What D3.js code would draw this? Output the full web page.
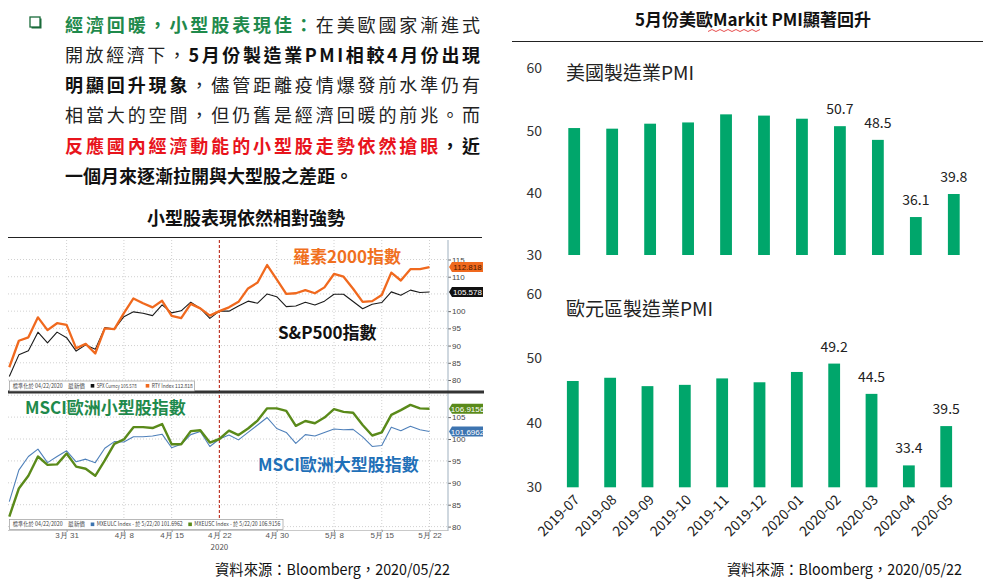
<!DOCTYPE html>
<html>
<head>
<meta charset="utf-8">
<script src="https://cdn.jsdelivr.net/npm/d3@7"></script>
<style>
  body { margin: 0; background: #fff; }
  svg { display: block; font-family: "Noto Sans CJK TC", "Noto Sans", sans-serif; }
</style>
</head>
<body>
<div id="chart"></div>
<script>
// 資料：每個平日 (03/23 ~ 05/22)
const days = [
  "2020-03-23","2020-03-24","2020-03-25","2020-03-26","2020-03-27",
  "2020-03-30","2020-03-31","2020-04-01","2020-04-02","2020-04-03",
  "2020-04-06","2020-04-07","2020-04-08","2020-04-09","2020-04-10",
  "2020-04-13","2020-04-14","2020-04-15","2020-04-16","2020-04-17",
  "2020-04-20","2020-04-21","2020-04-22","2020-04-23","2020-04-24",
  "2020-04-27","2020-04-28","2020-04-29","2020-04-30","2020-05-01",
  "2020-05-04","2020-05-05","2020-05-06","2020-05-07","2020-05-08",
  "2020-05-11","2020-05-12","2020-05-13","2020-05-14","2020-05-15",
  "2020-05-18","2020-05-19","2020-05-20","2020-05-21","2020-05-22"
];
const tickDays = ["2020-03-31","2020-04-08","2020-04-15","2020-04-22","2020-04-30","2020-05-08","2020-05-15","2020-05-22"];
const tickLabels = ["3月 31","4月 8","4月 15","4月 22","4月 30","5月 8","5月 15","5月 22"];
const baseDay = "2020-04-22";

// 標準化於 04/22/2020
const rty = [83.7,91.4,92.4,98.2,94.5,96.5,96.0,89.2,90.5,87.7,
  95.0,94.8,99.4,103.7,102.3,101.1,103.0,98.6,98.0,102.1,
  100.8,98.7,100.0,101.1,102.7,106.6,108.3,113.4,109.2,105.0,
  105.2,106.1,105.2,106.9,110.8,110.0,106.5,102.7,102.9,104.7,
  111.2,108.9,112.2,112.2,112.818];
const spx = [81.0,87.3,88.5,93.9,90.8,93.9,92.3,88.4,90.2,88.9,
  95.2,94.8,98.4,99.8,99.4,98.7,101.8,99.5,100.1,102.6,
  100.8,97.9,100.0,100.0,101.5,102.9,102.3,105.0,104.2,101.3,
  101.5,102.6,101.8,102.9,104.9,104.9,102.8,100.7,102.0,102.5,
  105.6,104.6,106.1,105.4,105.578];
const mxeusc = [82.3,88.7,91.6,96.0,94.1,94.2,96.7,93.7,93.2,91.6,
  95.1,98.9,99.9,102.7,102.7,102.5,103.4,98.8,98.8,101.8,
  102.0,99.2,100.0,101.9,100.9,102.4,104.2,107.0,107.0,106.4,
  103.0,104.1,103.6,104.9,106.8,106.2,106.0,103.2,100.8,101.5,
  105.5,106.6,107.8,107.0,106.9156];
const mxeulc = [85.7,92.9,96.0,97.7,94.6,96.0,97.3,94.8,95.4,94.6,
  97.9,99.4,99.3,100.5,100.5,100.7,101.1,98.0,98.8,101.0,
  101.7,98.3,100.0,100.9,99.8,101.5,103.2,104.9,102.4,101.5,
  99.0,101.0,100.7,101.5,102.3,102.1,102.2,100.5,98.3,98.5,
  102.7,101.9,102.9,102.1,101.6962];

// PMI
const months = ["2019-07","2019-08","2019-09","2019-10","2019-11","2019-12","2020-01","2020-02","2020-03","2020-04","2020-05"];
const usPmi = [50.4,50.3,51.1,51.3,52.6,52.4,51.9,50.7,48.5,36.1,39.8];
const euPmi = [46.5,47.0,45.7,45.9,46.9,46.3,47.9,49.2,44.5,33.4,39.5];
const pmiTicks = [30,40,50,60];
const labelFrom = 7; // 2020-02 起標示數值

// 段落文字 (g: 綠粗, b: 粗, r: 紅粗, n: 一般)
const paraLines = [
  [["經濟回暖，小型股表現佳：","g"],["在美歐國家漸進式","n"]],
  [["開放經濟下，","n"],["5月份製造業PMI相較4月份出現","b"]],
  [["明顯回升現象","b"],["，儘管距離疫情爆發前水準仍有","n"]],
  [["相當大的空間，但仍舊是經濟回暖的前兆。而","n"]],
  [["反應國內經濟動能的小型股走勢依然搶眼","r"],["，近","b"]],
  [["一個月來逐漸拉開與大型股之差距。","b"]]
];
const paraColor = { g: "#1f8a4c", b: "#111", r: "#e8141c", n: "#222" };

const svg = d3.select("#chart").append("svg")
  .attr("width", 984)
  .attr("height", 584);

// ---- 左上段落 ----
const bullet = svg.append("g");
bullet.append("rect").attr("x", 31.5).attr("y", 18.5).attr("width", 10).attr("height", 10).attr("fill", "#1a6b3a");
bullet.append("rect").attr("x", 30).attr("y", 17).attr("width", 10).attr("height", 10)
  .attr("fill", "#fff").attr("stroke", "#1a6b3a").attr("stroke-width", 1.3);

paraLines.forEach((line, i) => {
  const t = svg.append("text")
    .attr("x", 65)
    .attr("y", 31.5 + i * 30.3)
    .style("font-size", "18px");
  if (i < paraLines.length - 1) t.attr("textLength", 415).attr("lengthAdjust", "spacing");
  line.forEach(([txt, k]) => {
    t.append("tspan").text(txt)
      .attr("fill", paraColor[k])
      .attr("font-weight", k === "n" ? 400 : 700);
  });
});

svg.append("text").attr("x", 246).attr("y", 224.5).attr("text-anchor", "middle")
  .style("font-size", "18px").attr("font-weight", 700).attr("fill", "#111")
  .text("小型股表現依然相對強勢");
svg.append("line").attr("x1", 8).attr("x2", 482).attr("y1", 237.5).attr("y2", 237.5)
  .attr("stroke", "#222").attr("stroke-width", 1);

// ---- 左下：指數走勢 ----
const x = d3.scalePoint().domain(days).range([9.3, 429.5]);
const yTop = d3.scaleLinear().domain([80, 115]).range([380, 259.5]);
const yBot = d3.scaleLinear().domain([80, 110]).range([526.6, 395.2]);
const panels = [
  { y: yTop, top: 240, bottom: 390, ticks: [80, 85, 90, 95, 100, 110, 115], grid: d3.range(80, 116, 5) },
  { y: yBot, top: 394, bottom: 530, ticks: [80, 85, 90, 95, 100, 105], grid: d3.range(80, 111, 5) }
];

const chart = svg.append("g");
panels.forEach(p => {
  const g = chart.append("g");
  g.selectAll(".hg").data(p.grid).enter().append("line")
    .attr("x1", 8).attr("x2", 447)
    .attr("y1", d => p.y(d)).attr("y2", d => p.y(d))
    .attr("stroke", "#c4c4c4").attr("stroke-width", 0.8).attr("stroke-dasharray", "1,2");
  g.selectAll(".vg").data(tickDays.filter(d => d !== baseDay)).enter().append("line")
    .attr("x1", d => x(d)).attr("x2", d => x(d))
    .attr("y1", p.top).attr("y2", p.bottom)
    .attr("stroke", "#c4c4c4").attr("stroke-width", 0.8).attr("stroke-dasharray", "1,2");

  const ax = g.append("g").attr("transform", "translate(448,0)")
    .call(d3.axisRight(p.y).tickValues(p.ticks).tickSize(3).tickPadding(1));
  ax.select(".domain").remove();
  ax.selectAll("line").attr("stroke", "#666");
  ax.selectAll("text").attr("fill", "#444").style("font-size", "8px").style("font-family", "Arial, 'Liberation Sans', sans-serif");
});

chart.append("line").attr("x1", 448).attr("x2", 448).attr("y1", 240).attr("y2", 531)
  .attr("stroke", "#9fb0bf").attr("stroke-width", 1);
chart.append("line").attr("x1", 8).attr("x2", 448).attr("y1", 530.5).attr("y2", 530.5)
  .attr("stroke", "#bbb").attr("stroke-width", 0.8);

// 基準日紅色虛線
chart.append("line")
  .attr("x1", x(baseDay)).attr("x2", x(baseDay)).attr("y1", 240).attr("y2", 530)
  .attr("stroke", "#c0392b").attr("stroke-width", 1.2).attr("stroke-dasharray", "3,2");

// 分隔粗線
chart.append("rect").attr("x", 8).attr("y", 390.5).attr("width", 476).attr("height", 3).attr("fill", "#333");

const series = [
  { vals: spx, y: yTop, color: "#1a1a1a", w: 1.1 },
  { vals: rty, y: yTop, color: "#f0691e", w: 2.3 },
  { vals: mxeulc, y: yBot, color: "#4f80ba", w: 1.1 },
  { vals: mxeusc, y: yBot, color: "#5a8a1a", w: 2.4 }
];
series.forEach(s => {
  const line = d3.line().x((d, i) => x(days[i])).y(d => s.y(d));
  chart.append("path").datum(s.vals).attr("d", line)
    .attr("fill", "none").attr("stroke", s.color).attr("stroke-width", s.w)
    .attr("stroke-linejoin", "round");
});

// 最新價標籤
const tags = [
  { v: rty[rty.length - 1], y: yTop, fill: "#f0691e", text: "#4a1800", label: "112.818" },
  { v: spx[spx.length - 1], y: yTop, fill: "#111", text: "#fff", label: "105.578" },
  { v: mxeusc[mxeusc.length - 1], y: yBot, fill: "#5a8a1a", text: "#fff", label: "106.9156" },
  { v: mxeulc[mxeulc.length - 1], y: yBot, fill: "#3d74b0", text: "#fff", label: "101.6962" }
];
tags.forEach(t => {
  const cy = t.y(t.v);
  chart.append("path")
    .attr("d", `M449,${cy} L452,${cy - 5} L483,${cy - 5} L483,${cy + 5} L452,${cy + 5} Z`)
    .attr("fill", t.fill);
  chart.append("text").attr("x", 467.5).attr("y", cy + 3).attr("text-anchor", "middle")
    .attr("fill", t.text).style("font-size", "8px").style("font-family", "Arial, 'Liberation Sans', sans-serif")
    .text(t.label);
});

// x 軸
const xa = chart.append("g").attr("transform", "translate(0,530)")
  .call(d3.axisBottom(x).tickValues(tickDays).tickFormat((d, i) => tickLabels[i]).tickSize(2).tickPadding(0));
xa.select(".domain").remove();
xa.selectAll("line").attr("stroke", "#999");
xa.selectAll("text").attr("fill", "#555").style("font-size", "8px");
chart.append("text").attr("x", x(baseDay)).attr("y", 549.5).attr("text-anchor", "middle")
  .attr("fill", "#555").style("font-size", "8px").text("2020");

// 圖例框
const legends = [
  { y: 381, w: 185, items: [["標準化於 04/22/2020", 12.7, 50, null], ["最新價", 68, 17, null], ["SPX Curncy 105.578", 96.7, 40, "#111"], ["RTY Index 112.818", 151.7, 41, "#f0691e"]] },
  { y: 519.5, w: 273.5, items: [["標準化於 04/22/2020", 12.7, 50, null], ["最新價", 68, 17, null], ["MXEULC Index -  於 5/22/20 101.6962", 96.7, 86, "#3d74b0"], ["MXEUSC Index -  於 5/22/20 106.9156", 194.3, 86, "#5a8a1a"]] }
];
legends.forEach(l => {
  const g = chart.append("g");
  g.append("rect").attr("x", 9.5).attr("y", l.y).attr("width", l.w).attr("height", 10)
    .attr("fill", "#fff").attr("stroke", "#9a9a9a").attr("stroke-width", 0.7);
  l.items.forEach(([txt, lx, lw, c]) => {
    if (c) g.append("rect").attr("x", lx - 6).attr("y", l.y + 3).attr("width", 3.6).attr("height", 3.6).attr("fill", c);
    g.append("text").attr("x", lx).attr("y", l.y + 6.8).attr("fill", "#444")
      .attr("textLength", lw).attr("lengthAdjust", "spacingAndGlyphs")
      .style("font-size", "5.5px").text(txt);
  });
});

// 標註文字
const notes = [
  { t: "羅素2000指數", x: 293, y: 262.5, c: "#f0701e" },
  { t: "S&P500指數", x: 278, y: 338.5, c: "#111" },
  { t: "MSCI歐洲小型股指數", x: 25, y: 413.5, c: "#1f8a4c" },
  { t: "MSCI歐洲大型股指數", x: 258, y: 471, c: "#1f70b8" }
];
notes.forEach(n => {
  chart.append("text").attr("x", n.x).attr("y", n.y).attr("fill", n.c)
    .style("font-size", "17px").attr("font-weight", 700).text(n.t);
});

svg.append("text").attr("x", 215).attr("y", 575).attr("fill", "#111")
  .attr("textLength", 235).attr("lengthAdjust", "spacingAndGlyphs")
  .style("font-size", "15px").text("資料來源：Bloomberg，2020/05/22");

// ---- 右側：PMI ----
svg.append("text").attr("x", 753).attr("y", 26).attr("text-anchor", "middle")
  .style("font-size", "17px").attr("font-weight", 700).attr("fill", "#111")
  .text("5月份美歐Markit PMI顯著回升");
svg.append("path")
  .attr("d", d3.range(0, 14).map(i => `${i === 0 ? "M" : "L"}${708 + i * 4},${i % 2 ? 29.5 : 31.5}`).join(" "))
  .attr("fill", "none").attr("stroke", "#e02020").attr("stroke-width", 0.8);
svg.append("line").attr("x1", 512).attr("x2", 983).attr("y1", 41.5).attr("y2", 41.5)
  .attr("stroke", "#222").attr("stroke-width", 1);

function drawPmi(vals, title, yRange, xRange, titleY, showX) {
  const g = svg.append("g");
  const y = d3.scaleLinear().domain([30, 60]).range(yRange);
  const xb = d3.scalePoint().domain(months).range(xRange);
  const bw = 11.8;

  g.selectAll(".tick-label").data(pmiTicks).enter().append("text")
    .attr("x", 542).attr("y", d => y(d) + 5).attr("text-anchor", "end")
    .attr("fill", "#333").style("font-size", "14px").text(d => d);

  g.append("text").attr("x", 566).attr("y", titleY).attr("fill", "#222")
    .style("font-size", "19px").text(title);

  g.selectAll(".bar").data(vals).enter().append("rect")
    .attr("x", (d, i) => xb(months[i]) - bw / 2)
    .attr("y", d => y(d))
    .attr("width", bw)
    .attr("height", d => y(30) - y(d))
    .attr("fill", "#00a66b");

  g.selectAll(".val").data(vals).enter()
    .filter((d, i) => i >= labelFrom)
    .append("text")
    .attr("x", (d, i) => xb(months[i + labelFrom]))
    .attr("y", d => y(d) - 12)
    .attr("text-anchor", "middle").attr("fill", "#222").style("font-size", "14px")
    .text(d => d.toFixed(1));

  if (showX) {
    g.selectAll(".mlab").data(months).enter().append("text")
      .attr("transform", d => `translate(${xb(d) + 4},${y(30) + 10}) rotate(-45)`)
      .attr("text-anchor", "end").attr("dy", "0.35em")
      .attr("fill", "#222").style("font-size", "14px").text(d => d);
  }
}

drawPmi(usPmi, "美國製造業PMI", [255, 68.3], [574.2, 953.8], 80, false);
drawPmi(euPmi, "歐元區製造業PMI", [487.3, 294], [572.8, 946.2], 316, true);

svg.append("text").attr("x", 727).attr("y", 575).attr("fill", "#111")
  .attr("textLength", 235).attr("lengthAdjust", "spacingAndGlyphs")
  .style("font-size", "15px").text("資料來源：Bloomberg，2020/05/22");
</script>
</body>
</html>
